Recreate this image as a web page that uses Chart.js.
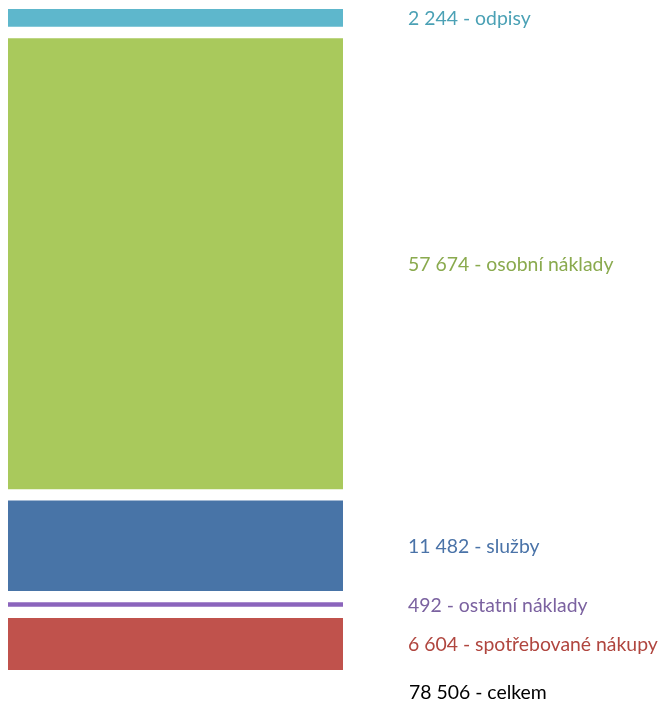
<!DOCTYPE html>
<html>
<head>
<meta charset="utf-8">
<script src="https://cdn.jsdelivr.net/npm/chart.js@4"></script>
<style>
html,body{margin:0;padding:0;background:#fff;}
#wrap{width:661px;height:701px;position:relative;}
</style>
</head>
<body>
<div id="wrap"><canvas id="c" width="661" height="701"></canvas></div>
<script>
// Data (bottom to top)
const categories = ["spotřebované nákupy", "ostatní náklady", "služby", "osobní náklady", "odpisy"];
const values = [6604, 492, 11482, 57674, 2244];
const valueLabels = ["6 604", "492", "11 482", "57 674", "2 244"];
const totalLabel = "78 506";
const totalName = "celkem";

const barColors = ["#C0524C", "#8B64BC", "#4874A7", "#A9C95C", "#5EB7CC"];
const textColors = ["#B0463F", "#7B62A0", "#4A73A8", "#8AAA4E", "#4BA1B5"];

const total = values.reduce((a, b) => a + b, 0);
const areaPx = 661, gapPx = 12;
const gap = gapPx * total / (areaPx - gapPx * (values.length - 1));
const yMax = total + gap * (values.length - 1);

let cum = 0;
const datasets = values.map((v, i) => {
  const start = cum;
  const end = cum + v;
  cum = end + gap;
  return {
    label: categories[i],
    data: [[start, end]],
    backgroundColor: barColors[i],
    borderWidth: 0,
    barPercentage: 1,
    categoryPercentage: 1
  };
});

const labelPlugin = {
  id: 'sideLabels',
  afterDatasetsDraw(chart) {
    const ctx = chart.ctx;
    const y = chart.scales.y;
    ctx.save();
    ctx.font = '19.4px Lato, "Open Sans", sans-serif';
    ctx.textBaseline = 'middle';
    ctx.textAlign = 'left';
    const x = 408;
    chart.data.datasets.forEach((ds, i) => {
      const [s, e] = ds.data[0];
      const yc = (y.getPixelForValue(s) + y.getPixelForValue(e)) / 2;
      ctx.fillStyle = textColors[i];
      ctx.fillText(valueLabels[i] + " - " + categories[i], x, yc + 1);
    });
    ctx.fillStyle = '#000';
    ctx.fillText(totalLabel + " - " + totalName, x + 1, y.getPixelForValue(0) + 23);
    ctx.restore();
  }
};

new Chart(document.getElementById('c'), {
  type: 'bar',
  data: { labels: [""], datasets },
  options: {
    responsive: false,
    animation: false,
    layout: { padding: { left: 8, right: 318, top: 9, bottom: 31 } },
    datasets: { bar: { grouped: false } },
    plugins: { legend: { display: false }, tooltip: { enabled: false } },
    scales: {
      x: { display: false, offset: true },
      y: { display: false, min: 0, max: yMax }
    }
  },
  plugins: [labelPlugin]
});
</script>
</body>
</html>
